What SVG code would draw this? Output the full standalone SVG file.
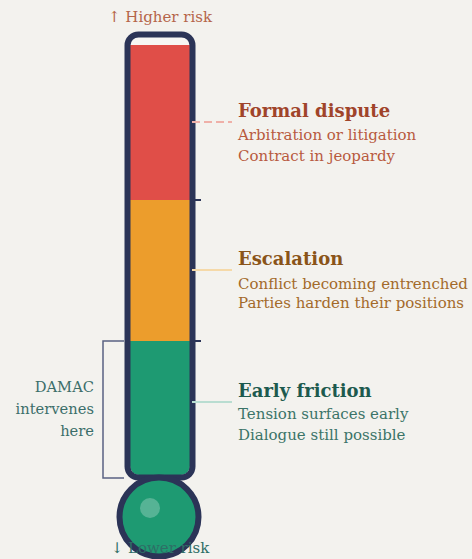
<svg xmlns="http://www.w3.org/2000/svg" width="472" height="559" viewBox="0 0 472 559">
<style>
text{font-family:"DejaVu Serif","Liberation Serif",serif;}
.h{font-size:18px;font-weight:bold;}
.s{font-size:15px;}
.d{font-size:14.7px;}
.nv{stroke:#2b3457;fill:none;}
</style>
<rect width="472" height="559" fill="#f3f2ee"/>
<g id="thermometer">
<rect x="127.5" y="34.5" width="65" height="443" rx="11" fill="#f7f6f3"/>
<rect x="130" y="45" width="60" height="155" fill="#e04e48"/>
<rect x="130" y="200" width="60" height="141" fill="#ec9d2c"/>
<path d="M130 341H190V466a9 9 0 0 1-9 9H139a9 9 0 0 1-9-9Z" fill="#1e9a72"/>
<rect x="127.5" y="34.5" width="65" height="443" rx="11" class="nv" stroke-width="6"/>
<circle cx="159" cy="517" r="39.5" fill="#1e9a72" stroke="#2b3457" stroke-width="6"/>
<circle cx="150" cy="508" r="10" fill="#ffffff" fill-opacity="0.25"/>
<path d="M193 200H201M193 341H201" class="nv" stroke-width="2"/>
</g>
<g id="labels-axis">
<text x="160" y="22" text-anchor="middle" class="s" fill="#b5654a">↑ Higher risk</text>
<text x="160" y="553" text-anchor="middle" class="s" fill="#2e6e66">↓ Lower risk</text>
</g>
<g id="connectors">
<path d="M192 122H232" stroke="#efb0a8" stroke-width="2" stroke-dasharray="8 4" fill="none"/>
<path d="M192 270H232" stroke="#f5d9a8" stroke-width="2" fill="none"/>
<path d="M192 402H232" stroke="#b9ddd1" stroke-width="2" fill="none"/>
<path d="M124 341H103V478H124" stroke="#5a6282" stroke-width="1.5" fill="none"/>
</g>
<g id="formal">
<text x="238" y="117" class="h" fill="#a0442a">Formal dispute</text>
<text x="238" y="140" class="s" fill="#b85a3e">Arbitration or litigation</text>
<text x="238" y="161" class="s" fill="#b85a3e">Contract in jeopardy</text>
</g>
<g id="escalation">
<text x="238" y="265" class="h" fill="#8a5418">Escalation</text>
<text x="238" y="289" class="s" fill="#a36a2a">Conflict becoming entrenched</text>
<text x="238" y="308" class="s" fill="#a36a2a">Parties harden their positions</text>
</g>
<g id="early">
<text x="238" y="397" class="h" fill="#1d5a4e">Early friction</text>
<text x="238" y="419" class="s" fill="#3b7468">Tension surfaces early</text>
<text x="238" y="440" class="s" fill="#3b7468">Dialogue still possible</text>
</g>
<g id="damac">
<text x="94" y="392" text-anchor="end" class="d" fill="#3b6e6a">DAMAC</text>
<text x="94" y="414" text-anchor="end" class="d" fill="#3b6e6a">intervenes</text>
<text x="94" y="436" text-anchor="end" class="d" fill="#3b6e6a">here</text>
</g>
</svg>
